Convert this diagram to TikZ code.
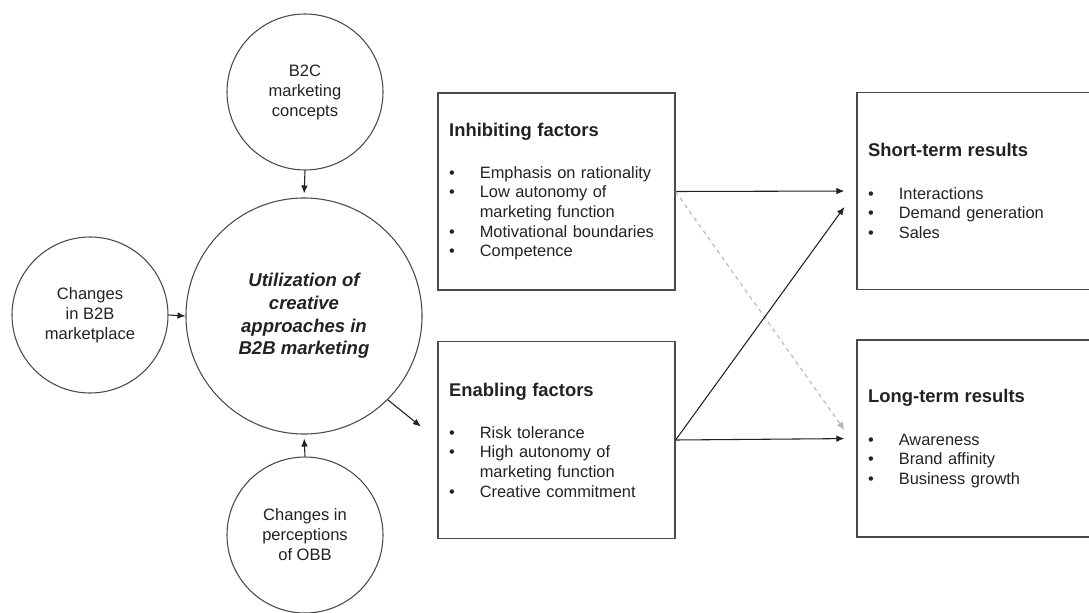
\documentclass[tikz,border=0pt]{standalone}
\usepackage{fontspec}
\setmainfont{Liberation Sans}
\usetikzlibrary{positioning, calc, arrows.meta}
\definecolor{Ink}{HTML}{222222}
\definecolor{Edge}{HTML}{4A4A4A}
\definecolor{Faint}{HTML}{B4B4B4}
\newcommand{\bul}{\makebox[23pt][l]{\textbullet}}
\newcommand{\cont}{\hspace*{23pt}}
\newcommand{\boxtitle}[1]{{\fontsize{13.8}{16}\selectfont\bfseries #1}}
\tikzset{
    smallcircle/.style={circle, draw=Edge, line width=0.8pt, minimum size=117pt, inner sep=0pt, align=center, text=Ink, font=\fontsize{12.4}{15}\selectfont},
    bigcircle/.style={circle, draw=Edge, line width=0.8pt, minimum size=177pt, inner sep=0pt, align=center, text=Ink, font=\fontsize{13.9}{17}\selectfont\bfseries\itshape},
    factorbox/.style={rectangle, draw=Edge, line width=0.9pt, minimum width=177.75pt, minimum height=147.75pt, text width=161pt, inner xsep=8pt, align=left, text=Ink, font=\fontsize{12.3}{14.7}\selectfont},
    arrow/.style={-{Latex[length=6pt, width=5pt]}, line width=0.8pt, color=Ink},
    dasharrow/.style={-{Latex[length=6pt, width=5pt]}, line width=0.8pt, dashed, color=Faint},
}

\begin{document}
\begin{tikzpicture}[x=0.75pt, y=-0.75pt]
    \clip (0, 0) rectangle (1089, 613);

    % Circles
    \node[bigcircle] (main) at (304, 316) {Utilization of\\creative\\approaches in\\B2B marketing};
    \node[smallcircle] (b2c) at (305, 92) {B2C\\marketing\\concepts};
    \node[smallcircle] (b2b) at (90, 315) {Changes\\in B2B\\marketplace};
    \node[smallcircle] (obb) at (305, 535) {Changes in\\perceptions\\of OBB};

    \draw[arrow, shorten >=3pt] (b2c.south) -- (main.north);
    \draw[arrow] (b2b.east) -- (main.west);
    \draw[arrow, shorten >=3pt] (obb.north) -- (main.south);

    % Factors
    \node[factorbox] (inh) at (556.5, 191.5) {\boxtitle{Inhibiting factors}\\[17pt]
        \bul Emphasis on rationality\\
        \bul Low autonomy of\\
        \cont marketing function\\
        \bul Motivational boundaries\\
        \bul Competence};
    \node[factorbox] (enab) at (556.5, 440) {\boxtitle{Enabling factors}\\[17pt]
        \bul Risk tolerance\\
        \bul High autonomy of\\
        \cont marketing function\\
        \bul Creative commitment};

    \draw[arrow, shorten >=16pt] (main.-45) -- (enab.west);

    % Results
    \node[factorbox] (short) at (975.5, 191) {\boxtitle{Short-term results}\\[17pt]
        \bul Interactions\\
        \bul Demand generation\\
        \bul Sales};
    \node[factorbox] (long) at (975.5, 438.5) {\boxtitle{Long-term results}\\[17pt]
        \bul Awareness\\
        \bul Brand affinity\\
        \bul Business growth};

    \draw[arrow, shorten >=9pt] (inh.east) -- (short.west);
    \draw[dasharrow] (inh.east) -- ($(long.west)+(-12, -8.5)$);
    \draw[arrow] (enab.east) -- ($(short.west)+(-12, 16)$);
    \draw[arrow, shorten >=9pt] (enab.east) -- (long.west);
\end{tikzpicture}
\end{document}
